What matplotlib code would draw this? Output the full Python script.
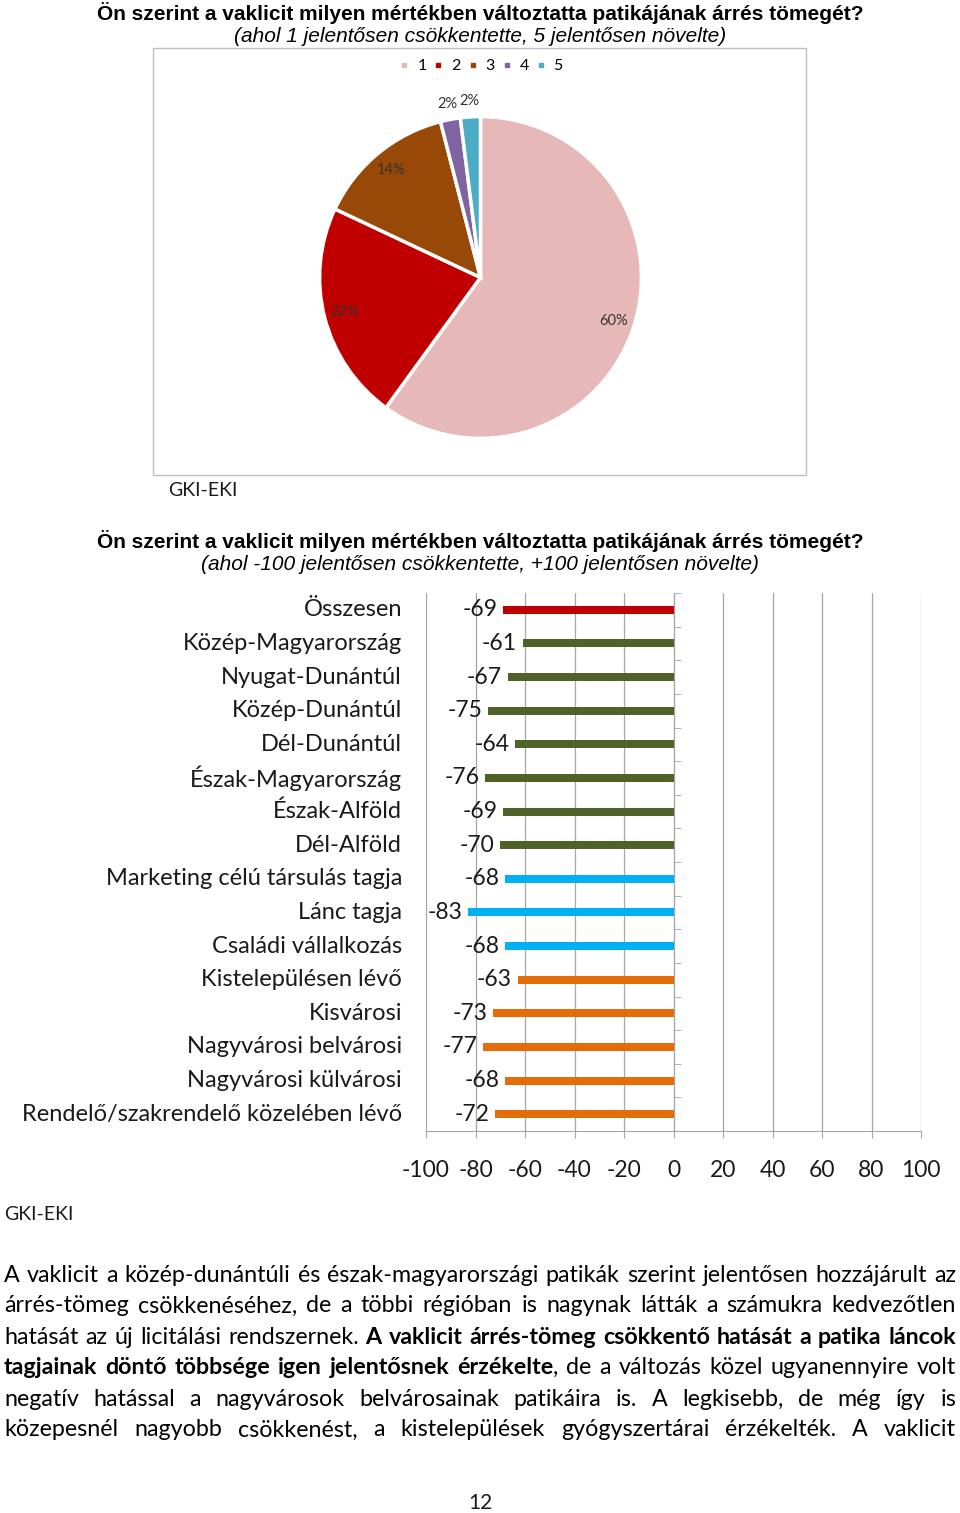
import math
import matplotlib
matplotlib.use('Agg')
import matplotlib.pyplot as plt
from matplotlib.lines import Line2D
from matplotlib.patches import Rectangle

# --- data ---
pie_labels = ['1', '2', '3', '4', '5']
pie_values = [60, 22, 14, 2, 2]
pie_colors = ['#E6B9B8', '#C00000', '#984807', '#8064A2', '#4BACC6']

categories = ['Összesen', 'Közép-Magyarország', 'Nyugat-Dunántúl', 'Közép-Dunántúl',
              'Dél-Dunántúl', 'Észak-Magyarország', 'Észak-Alföld', 'Dél-Alföld',
              'Marketing célú társulás tagja', 'Lánc tagja', 'Családi vállalkozás',
              'Kistelepülésen lévő', 'Kisvárosi', 'Nagyvárosi belvárosi',
              'Nagyvárosi külvárosi', 'Rendelő/szakrendelő közelében lévő']
values = [-69, -61, -67, -75, -64, -76, -69, -70, -68, -83, -68, -63, -73, -77, -68, -72]
bar_colors = ['#C00000'] + ['#4F6228'] * 7 + ['#00B0F0'] * 3 + ['#E46C0A'] * 5
xticks = list(range(-100, 101, 20))

title = 'Ön szerint a vaklicit milyen mértékben változtatta patikájának árrés tömegét?'
sub1 = '(ahol 1 jelentősen csökkentette, 5 jelentősen növelte)'
sub2 = '(ahol -100 jelentősen csökkentette, +100 jelentősen növelte)'
source = 'GKI-EKI'

paragraph = [
    [('A vaklicit a közép-dunántúli és észak-magyarországi patikák szerint jelentősen hozzájárult az', False)],
    [('árrés-tömeg csökkenéséhez, de a többi régióban is nagynak látták a számukra kedvezőtlen', False)],
    [('hatását az új licitálási rendszernek.', False),
     (' A vaklicit árrés-tömeg csökkentő hatását a patika láncok', True)],
    [('tagjainak döntő többsége igen jelentősnek érzékelte', True),
     (', de a változás közel ugyanennyire volt', False)],
    [('negatív hatással a nagyvárosok belvárosainak patikáira is. A legkisebb, de még így is', False)],
    [('közepesnél nagyobb csökkenést, a kistelepülések gyógyszertárai érzékelték. A vaklicit', False)],
]
page_no = '12'

W, H = 960, 1513
def fx(x):
    return x / W
def fy(y):
    return 1 - y / H

body = 'Lato'
arial = 'Liberation Sans'
ink = '#1a1a1a'

fig = plt.figure(figsize=(W / 100, H / 100), dpi=100)

# --- pie chart ---
fig.text(fx(480), fy(13), title, ha='center', va='center', family=arial,
         weight='bold', fontsize=15, color='black')
fig.text(fx(480), fy(36), sub1, ha='center', va='center', family=arial,
         style='italic', fontsize=15, color='black')
fig.add_artist(Rectangle((fx(153), fy(475)), (806 - 153) / W, (475 - 48) / H,
                         transform=fig.transFigure, fill=False,
                         edgecolor='#BFBFBF', lw=1))

ax_pie = fig.add_axes([fx(318), fy(440), 325 / W, 325 / H])
wedges, _ = ax_pie.pie(pie_values, colors=pie_colors, startangle=90, counterclock=False,
                       wedgeprops=dict(edgecolor='white', linewidth=2.5))
ax_pie.set_xlim(-1.01, 1.01)
ax_pie.set_ylim(-1.01, 1.01)
for w, v in zip(wedges, pie_values):
    ang = math.radians((w.theta1 + w.theta2) / 2)
    r = 0.87 if v > 5 else 1.1
    ax_pie.text(r * math.cos(ang), r * math.sin(ang), f'{v}%', ha='center', va='center',
                family=body, fontsize=10.5, color='#333333')

handles = [Line2D([], [], marker='s', ls='', color=c, markersize=3.5) for c in pie_colors]
fig.legend(handles, pie_labels, loc='center', bbox_to_anchor=(fx(482), fy(66)), ncol=5,
           frameon=False, handlelength=0.4, handletextpad=0.6, columnspacing=0.55,
           prop=dict(family=body, size=11.5))

fig.text(fx(168), fy(491), source, ha='left', va='center', family=body, fontsize=14,
         color=ink)

# --- bar chart ---
fig.text(fx(480), fy(541), title, ha='center', va='center', family=arial,
         weight='bold', fontsize=15, color='black')
fig.text(fx(480), fy(565), sub2, ha='center', va='center', family=arial,
         style='italic', fontsize=15, color='black')

ax = fig.add_axes([fx(426), fy(1131), 495 / W, 538 / H])
ypos = list(range(len(categories)))
ax.barh(ypos, values, height=0.24, color=bar_colors, zorder=3)
ax.set_xlim(-100, 100)
ax.set_ylim(len(categories) - 0.5, -0.5)
ax.set_xticks(xticks)
ax.set_xticklabels([str(t) for t in xticks], family=body, fontsize=16.5, color=ink)
ax.grid(axis='x', color='#A6A6A6', lw=0.9, zorder=0)
ax.set_axisbelow(True)
for s in ['top', 'right']:
    ax.spines[s].set_visible(False)
ax.spines['bottom'].set_color('#A6A6A6')
ax.spines['left'].set_position(('data', 0))
ax.spines['left'].set_color('#A6A6A6')
ax.set_yticks(ypos)
ax.set_yticklabels([])
ax.set_yticks([i + 0.5 for i in range(-1, len(categories))], minor=True)
ax.tick_params(axis='y', which='major', length=0)
ax.tick_params(axis='y', which='minor', direction='in', length=5, color='#A6A6A6')
ax.tick_params(axis='x', length=5, color='#A6A6A6', pad=16)

for i, (cat, v) in enumerate(zip(categories, values)):
    ax.text(-24 / 495, i, cat, transform=ax.get_yaxis_transform(), ha='right',
            va='center', family=body, fontsize=17, color=ink)
    ax.annotate(str(v), (v, i), xytext=(-4, 0), textcoords='offset points',
                ha='right', va='center', family=body, fontsize=16.5, color=ink)

fig.text(fx(4), fy(1214), source, ha='left', va='center', family=body, fontsize=14,
         color=ink)

# --- justified paragraph ---
renderer = fig.canvas.get_renderer()
left, right = 4, 956
line_y = [1275, 1306, 1337, 1368, 1399, 1430]

def tokens_of(line):
    toks = []
    for text, bold in line:
        for i, p in enumerate(text.split(' ')):
            if p == '':
                continue
            gap = i > 0 and len(toks) > 0
            toks.append((p, bold, gap))
    return toks

def width_of(s, bold, size):
    t = fig.text(0, 0, s, family=body, fontsize=size, weight='bold' if bold else 'normal')
    w = t.get_window_extent(renderer).width
    t.remove()
    return w

# pick the size at which the fullest line just fills the column
size = 15
space = width_of('a a', False, size) - 2 * width_of('a', False, size)
natural = []
for line in paragraph:
    toks = tokens_of(line)
    natural.append(sum(width_of(p, b, size) for p, b, g in toks) +
                   1.1 * space * sum(g for _, _, g in toks))
size = size * (right - left) / max(natural)

for line, y in zip(paragraph, line_y):
    toks = tokens_of(line)
    widths = [width_of(p, b, size) for p, b, g in toks]
    ngaps = sum(g for _, _, g in toks)
    gap = (right - left - sum(widths)) / max(ngaps, 1)
    x = left
    for (p, b, g), w in zip(toks, widths):
        if g:
            x += gap
        fig.text(fx(x), fy(y), p, ha='left', va='center', family=body, fontsize=size,
                 weight='bold' if b else 'normal', color='black')
        x += w

fig.text(fx(480), fy(1503), page_no, ha='center', va='center', family=body, fontsize=15,
         color=ink)

fig.savefig('out.png', dpi=100)
